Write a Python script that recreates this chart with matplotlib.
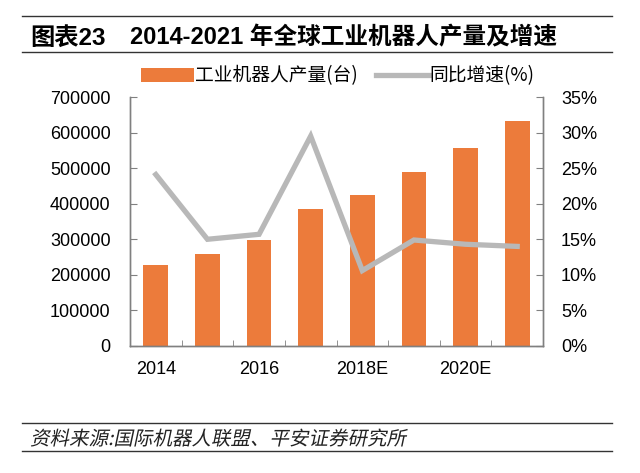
# 2014-2021 年全球工业机器人产量及增速 (柱状 + 折线双轴)
import matplotlib
matplotlib.use("Agg")
import matplotlib.pyplot as plt
from matplotlib.lines import Line2D
from matplotlib.patches import Patch, PathPatch
from matplotlib.textpath import TextPath
from matplotlib.font_manager import FontProperties
from matplotlib.transforms import Affine2D, IdentityTransform

plt.rcParams['font.family'] = ['Liberation Sans', 'Noto Sans CJK SC', 'DejaVu Sans']

# 数据
years = ["2014", "2015", "2016", "2017", "2018E", "2019E", "2020E", "2021E"]
output_units = [227000, 259000, 298000, 386000, 425000, 488000, 557000, 633000]
growth_pct = [24.1, 15.0, 15.7, 29.5, 10.6, 14.9, 14.3, 14.0]
xtick_labels = ["2014", "", "2016", "", "2018E", "", "2020E", ""]

BAR = "#EC7B3B"
LINE = "#B8B8B8"
SPINE = "#808080"

fig = plt.figure(figsize=(6.4, 4.73), dpi=100)
W, H = 640, 473

ax = fig.add_axes([130 / W, 1 - 346 / H, 413 / W, 249 / H])
ax2 = ax.twinx()

x = list(range(len(years)))
ax.bar(x, output_units, width=0.48, color=BAR, zorder=2)
ax2.plot(x, growth_pct, color=LINE, lw=3.8, solid_joinstyle="miter", zorder=3)

ax.set_xlim(-0.5, len(years) - 0.5)
ax.set_ylim(0, 700000)
ax2.set_ylim(0, 35)
ax.set_yticks(range(0, 700001, 100000))
ax.set_yticklabels([str(v) for v in range(0, 700001, 100000)])
ax2.set_yticks(range(0, 36, 5))
ax2.set_yticklabels([f"{v}%" for v in range(0, 36, 5)])

# x 轴: 标签在柱中心, 刻度在分隔处
ax.set_xticks(x)
ax.set_xticklabels(xtick_labels)
ax.tick_params(axis="x", length=0, pad=11, labelsize=13)
ax.set_xticks([i + 0.5 for i in x[:-1]], minor=True)
ax.tick_params(axis="x", which="minor", direction="in", length=4, color=SPINE)

ax.tick_params(axis="y", direction="in", length=5, color=SPINE, pad=14, labelsize=13)
ax2.tick_params(axis="y", direction="in", length=5, color=SPINE, pad=13, labelsize=13)

for a in (ax, ax2):
    a.spines["top"].set_visible(False)
    for s in ("left", "right", "bottom"):
        a.spines[s].set_color(SPINE)
        a.spines[s].set_linewidth(1.0)
ax.set_zorder(ax2.get_zorder() - 1)
ax2.patch.set_visible(False)

# 图例
handles = [Patch(facecolor=BAR, edgecolor="none"),
           Line2D([0], [0], color=LINE, lw=3.8)]
fig.legend(handles, ["工业机器人产量(台)", "同比增速(%)"],
           loc="center", bbox_to_anchor=(338 / W, 1 - 76 / H), ncol=2,
           frameon=False, handlelength=2.8, handleheight=0.75,
           handletextpad=0.05, columnspacing=1.0,
           prop={"family": ["Noto Sans CJK SC"], "size": 13.5})

# 标题与分隔线
for yy in (16, 52, 423, 451):
    fig.add_artist(Line2D([22 / W, 612 / W], [1 - yy / H, 1 - yy / H],
                          color="#333333", lw=1.0))
fig.text(30 / W, 1 - 38 / H, "图表23", fontsize=17.5, fontweight="bold",
         va="center", ha="left", family=["Liberation Sans", "Noto Sans CJK SC"])
fig.text(130 / W, 1 - 38 / H, "2014-2021 年全球工业机器人产量及增速", fontsize=17,
         fontweight="bold", va="center", ha="left",
         family=["Liberation Sans", "Noto Sans CJK SC"])

# 资料来源 (斜体效果)
src = "资料来源:国际机器人联盟、平安证券研究所"
tp = TextPath((0, 0), src, size=19.5, prop=FontProperties(family="Noto Sans CJK SC"))
tr = Affine2D().skew_deg(12, 0).translate(30, H - 445)
fig.add_artist(PathPatch(tr.transform_path(tp), transform=IdentityTransform(),
                         color="#222222", lw=0))

fig.savefig("out.png", dpi=100)
